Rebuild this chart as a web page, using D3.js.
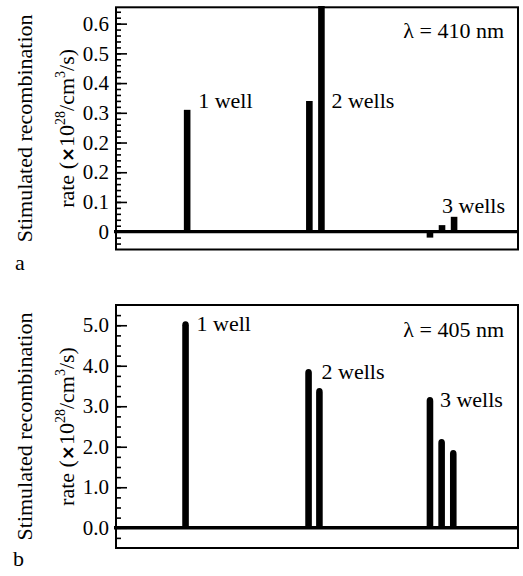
<!DOCTYPE html>
<html><head><meta charset="utf-8">
<script src="https://cdn.jsdelivr.net/npm/d3@7"></script>
</head><body style="margin:0;background:#fff">
<script>
// ---- data ----
const wellLabels = ["1 well", "2 wells", "3 wells"];
// bar positions along the (unlabelled) horizontal axis, 0-100
const posA = [17.7, 48.1, 51.1, 78.1, 81.1, 84.1];
const valA = [0.31, 0.34, 0.75, -0.02, 0.022, 0.05];
const posB = [17.3, 47.9, 50.6, 78.1, 81.0, 83.9];
const valB = [5.1, 3.92, 3.45, 3.23, 2.19, 1.92];
const tickLabelsA = ["0", "0.1", "0.2", "0.2", "0.3", "0.4", "0.5", "0.6"];
const tickValuesB = [0, 1, 2, 3, 4, 5];
const lambdaA = "λ = 410 nm", lambdaB = "λ = 405 nm";

const SERIF = "'Liberation Serif', 'Times New Roman', serif";
const W = 523, H = 576;
const svg = d3.select("body").append("svg").attr("width", W).attr("height", H)
  .style("font-family", SERIF, "important");

function txt(g) {
  return g.append("text").style("font-family", SERIF, "important").attr("fill", "#000");
}

function yTitle(g, cx, cy) {
  txt(g).attr("transform", `translate(${cx},${cy}) rotate(-90)`)
    .attr("text-anchor", "middle").style("font-size", "22px").text("Stimulated recombination");
  const t = txt(g).attr("transform", `translate(${cx + 42.5},${cy}) rotate(-90)`)
    .attr("text-anchor", "middle").style("font-size", "22px");
  t.append("tspan").text("rate (");
  t.append("tspan").style("font-family", "'DejaVu Sans'", "important").attr("font-weight", "bold").style("font-size", "18px").text("×");
  t.append("tspan").text("10");
  t.append("tspan").style("font-size", "14px").attr("dy", -9).text("28");
  t.append("tspan").attr("dy", 9).text("/cm");
  t.append("tspan").style("font-size", "14px").attr("dy", -9).text("3");
  t.append("tspan").attr("dy", 9).text("/s)");
}

function barPath(x, y0, yt, w, rounded) {
  const p = d3.path();
  const l = x - w / 2, r = x + w / 2;
  if (!rounded || yt > y0) {
    p.rect(l, Math.min(y0, yt), w, Math.abs(y0 - yt));
    return p.toString();
  }
  const rr = 4;
  p.moveTo(l, y0);
  p.lineTo(l, yt + rr);
  p.quadraticCurveTo(l, yt, x, yt);
  p.quadraticCurveTo(r, yt, r, yt + rr);
  p.lineTo(r, y0);
  p.closePath();
  return p.toString();
}

function panel(opts) {
  const g = svg.append("g");
  const {left, right, top, bottom} = opts;
  const x = d3.scaleLinear().domain([0, 100]).range([left, right]);
  // minor + major ticks (inward)
  g.append("g").attr("transform", `translate(${left},0)`)
    .call(d3.axisLeft(opts.tickScale).tickValues(opts.minor).tickSize(-5).tickFormat(""))
    .call(s => s.select(".domain").remove())
    .call(s => s.selectAll("line").attr("stroke", "#000").attr("stroke-width", 1.6));
  g.append("g").attr("transform", `translate(${left},0)`)
    .call(d3.axisLeft(opts.tickScale).tickValues(opts.major).tickSize(-11).tickPadding(7).tickFormat(opts.fmt))
    .attr("font-family", null)
    .call(s => s.select(".domain").remove())
    .call(s => s.selectAll("line").attr("stroke", "#000").attr("stroke-width", 1.6))
    .call(s => s.selectAll("text").style("font-size", "21px").style("font-family", SERIF, "important").attr("fill", "#000"));
  // bars
  const y0 = opts.y(0);
  g.selectAll("path.bar").data(opts.pos.map((p, i) => ({p, v: opts.val[i]})))
    .join("path").attr("class", "bar").attr("fill", "#000")
    .attr("d", d => barPath(x(d.p), y0, Math.max(opts.y(d.v), top - 1.3), 6.6, opts.rounded));
  // zero line
  g.append("line").attr("x1", left - 2).attr("x2", right).attr("y1", y0).attr("y2", y0)
    .attr("stroke", "#000").attr("stroke-width", 3.4);
  // frame
  g.append("rect").attr("x", left).attr("y", top).attr("width", right - left).attr("height", bottom - top)
    .attr("fill", "none").attr("stroke", "#000").attr("stroke-width", 2);
  // annotations
  opts.notes.forEach((n, i) => {
    txt(g).style("font-size", "22px")
      .attr("x", x(opts.pos[n.bar]) + n.dx).attr("y", opts.y(opts.val[n.yBar]) + n.dy).text(wellLabels[i]);
  });
  txt(g).style("font-size", "22px").attr("text-anchor", "end")
    .attr("x", right - 14).attr("y", opts.lamY).text(opts.lambda);
  txt(g).style("font-size", "22px").attr("x", opts.letterX).attr("y", opts.letterY).text(opts.letter);
  yTitle(g, 31.5, (top + bottom) / 2);
}

// panel a: tick positions are evenly spaced (index scale); values map through the labelled ticks
const aTop = 7.3, aBottom = 249.5;
const idxA = d3.scaleLinear().domain([-0.6, 7.55]).range([aBottom, aTop]);
const valToIdxA = d3.scaleLinear().domain([0, 0.1, 0.2, 0.6]).range([0, 1, 3, 7]);
const yA = v => idxA(valToIdxA(v));
panel({
  left: 116, right: 518, top: aTop, bottom: aBottom,
  tickScale: idxA, major: d3.range(0, 8), minor: d3.range(-0.4, 7.5, 0.2),
  fmt: i => tickLabelsA[i], y: yA, pos: posA, val: valA, rounded: false,
  notes: [{bar: 0, yBar: 0, dx: 11, dy: -2}, {bar: 2, yBar: 1, dx: 10, dy: 7}, {bar: 4, yBar: 5, dx: 0, dy: -4}],
  lambda: lambdaA, lamY: 38, letter: "a", letterX: 15, letterY: 270
});

// panel b
const bTop = 305, bBottom = 548;
const yB = d3.scaleLinear().domain([-0.5, 5.5]).range([bBottom, bTop]);
panel({
  left: 116, right: 518, top: bTop, bottom: bBottom,
  tickScale: yB, major: tickValuesB, minor: d3.range(-0.25, 5.3, 0.25),
  fmt: d3.format(".1f"), y: yB, pos: posB, val: valB, rounded: true,
  notes: [{bar: 0, yBar: 0, dx: 11, dy: 10}, {bar: 1, yBar: 1, dx: 13, dy: 10}, {bar: 3, yBar: 3, dx: 10, dy: 10}],
  lambda: lambdaB, lamY: 337, letter: "b", letterX: 13, letterY: 566
});
</script>
</body></html>
